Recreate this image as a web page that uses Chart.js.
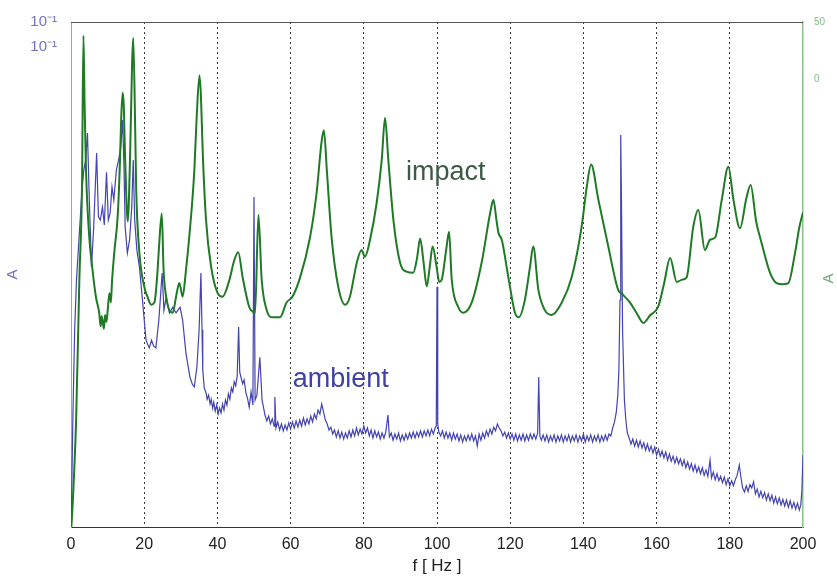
<!DOCTYPE html>
<html>
<head>
<meta charset="utf-8">
<script src="https://cdn.jsdelivr.net/npm/chart.js@4.4.1/dist/chart.umd.min.js"></script>
<style>
  html, body { margin: 0; padding: 0; background: #fff; }
  #wrap { width: 837px; height: 578px; }
</style>
</head>
<body>
<div id="wrap"><canvas id="spectrum" width="837" height="578"></canvas></div>
<script>
// frequency axis
const X_MIN = 0, X_MAX = 200, X_STEP = 20;

// impact spectrum, right axis [Hz, A]
const impact = [
  [0.1,-393],[0.5,-370],[1.4,-299],[2.3,-174],[3.0,-95],[3.4,38],[3.7,-20],[4.1,-80],[5.0,-139],[5.9,-168],
  [6.8,-191],[7.7,-205],[8.1,-217],[8.4,-208],[8.7,-214],[9.0,-219],[9.3,-207],[9.7,-213],[10.1,-200],[10.5,-188],
  [10.9,-196],[11.2,-178],[11.8,-153],[12.8,-118],[13.4,-70],[13.7,-36],[14.1,-12],[14.4,-22],[14.8,-71],[15.5,-125],
  [16.2,-60],[16.7,15],[17.0,36],[17.5,-36],[17.8,-95],[18.7,-153],[20.0,-182],[21.0,-192],[21.9,-198],[22.8,-196],
  [23.5,-175],[24.0,-150],[24.8,-118],[25.3,-168],[26.0,-191],[26.9,-203],[27.8,-205],[28.7,-191],[29.6,-179],[30.5,-191],
  [31.4,-168],[32.3,-139],[33.7,-80],[34.3,-36],[35.1,3],[35.5,-15],[36.0,-65],[36.9,-124],[38.3,-165],[40.1,-188],
  [41.4,-191],[43.3,-176],[44.6,-159],[45.7,-152],[46.9,-174],[48.7,-200],[49.6,-204],[50.3,-205],[51.2,-119],[52.1,-176],
  [53.5,-203],[54.8,-209],[57.1,-209],[58.9,-196],[60.5,-191],[62.6,-174],[65.3,-139],[67.1,-100],[68.5,-54],[69.1,-45],
  [69.9,-80],[71.2,-139],[73.0,-182],[74.9,-198],[76.2,-191],[78.1,-161],[79.4,-150],[80.3,-156],[81.7,-141],[83.5,-109],
  [84.9,-71],[85.8,-34],[86.7,-71],[88.1,-124],[89.9,-161],[91.7,-169],[93.5,-170],[94.5,-158],[95.4,-140],[96.3,-160],
  [97.2,-182],[98.0,-165],[98.8,-147],[99.9,-165],[100.6,-178],[101.3,-176],[102.5,-150],[103.3,-134],[104.0,-175],[105.8,-200],
  [107.2,-205],[109.5,-196],[112.2,-161],[114.5,-118],[115.4,-106],[116.3,-125],[116.8,-135],[117.7,-141],[119.5,-174],[121.3,-205],
  [122.4,-209],[124.0,-194],[125.4,-165],[126.3,-147],[127.7,-185],[129.5,-203],[131.3,-207],[134.1,-196],[136.8,-174],[139.5,-130],
  [140.9,-95],[142.1,-75],[144.1,-106],[146.8,-147],[149.5,-185],[150.4,-188],[152.7,-196],[154.5,-205],[156.4,-214],[158.3,-207],
  [160.4,-200],[162.0,-180],[163.7,-157],[165.5,-178],[167.0,-176],[168.2,-174],[170.0,-130],[171.4,-115],[173.2,-150],[174.6,-141],
  [176.0,-139],[177.8,-106],[179.6,-77],[181.0,-106],[182.8,-131],[184.5,-105],[185.7,-93],[187.2,-125],[188.7,-144],[191.0,-170],
  [192.8,-179],[194.5,-180],[196.0,-179],[197.8,-153],[199.0,-130],[200,-117]
];

// ambient spectrum, left log axis [Hz, A]
const ambient = [
  [0.1,2.1e-6],[0.5,1.86e-5],[1.0,1.48e-4],[1.5,4.7e-4],[2.0,9.3e-4],[2.5,1.86e-3],[3.0,3.7e-3],[3.5,5.9e-3],[4.0,7.4e-3],[4.5,1.38e-2],
  [5.0,2.95e-3],[5.6,6.3e-4],[6.2,1.58e-3],[7.0,8.7e-3],[7.5,2.0e-3],[8.0,1.86e-3],[8.6,2.5e-3],[9.1,1.66e-3],[9.7,5.6e-3],[10.2,1.86e-3],
  [10.7,2.19e-3],[11.2,4.0e-3],[11.7,2.95e-3],[12.4,5.9e-3],[13.0,7.4e-3],[13.6,1.0e-2],[14.1,1.86e-2],[14.5,5.9e-3],[14.8,1.58e-3],[15.4,8.7e-4],
  [16.0,1.17e-3],[16.6,2.5e-3],[17.0,7.4e-3],[17.4,1.86e-3],[18.0,9.3e-4],[18.7,6.3e-4],[19.6,2.75e-4],[20.5,1.17e-4],[21.0,1.05e-4],[21.4,9.8e-5],
  [22.0,1.17e-4],[22.6,1.02e-4],[23.2,9.8e-5],[24.0,1.86e-4],[24.9,5.5e-4],[25.4,2.34e-4],[26.0,3.16e-4],[26.9,2.19e-4],[27.8,2.5e-4],[28.7,2.19e-4],
  [29.8,2.5e-4],[30.5,1.86e-4],[31.4,8.7e-5],[32.5,5.0e-5],[33.2,4.2e-5],[33.7,4.0e-5],[34.4,6.3e-5],[35.0,1.48e-4],[35.5,5.5e-4],[35.8,1.48e-4],
  [36.0,5.9e-5],[36.4,3.9e-5],[36.9,3.47e-5],[37.2,3.0e-5],[37.6,3.3e-5],[38.0,2.69e-5],[38.3,3.0e-5],[38.7,2.45e-5],[39.0,2.8e-5],[39.4,2.29e-5],
  [39.8,2.63e-5],[40.2,2.14e-5],[40.6,2.45e-5],[41.0,2.19e-5],[41.4,2.69e-5],[41.8,2.34e-5],[42.2,2.95e-5],[42.6,2.63e-5],[43.0,3.4e-5],[43.4,3.0e-5],
  [43.8,3.9e-5],[44.2,3.55e-5],[44.6,4.5e-5],[45.0,4.1e-5],[45.4,5.1e-5],[45.8,1.58e-4],[46.1,5.6e-5],[46.5,4.9e-5],[46.9,4.3e-5],[47.3,4.7e-5],
  [47.8,3.47e-5],[48.2,3.1e-5],[48.7,2.5e-5],[49.2,3.55e-5],[49.7,2.63e-5],[50.0,3.16e-3],[50.3,2.95e-5],[50.8,3.3e-5],[51.6,7.9e-5],[52.2,2.95e-5],
  [53.0,2.09e-5],[53.5,1.82e-5],[54.0,2.04e-5],[54.5,1.70e-5],[55.0,1.91e-5],[55.5,1.62e-5],[55.7,3.16e-5],[56.0,1.55e-5],[56.5,1.78e-5],[57.0,1.48e-5],
  [57.5,1.70e-5],[58.0,1.45e-5],[58.5,1.66e-5],[59.0,1.48e-5],[59.5,1.74e-5],[60.0,1.51e-5],[60.5,1.78e-5],[61.0,1.55e-5],[61.5,1.82e-5],[62.0,1.58e-5],
  [62.5,1.86e-5],[63.0,1.62e-5],[63.5,1.95e-5],[64.0,1.66e-5],[64.5,1.91e-5],[65.0,1.70e-5],[65.5,2.04e-5],[66.0,1.78e-5],[66.5,2.14e-5],[67.0,1.91e-5],
  [67.5,2.34e-5],[68.0,2.14e-5],[68.5,2.69e-5],[69.0,2.24e-5],[69.5,1.86e-5],[70.0,1.70e-5],[70.5,1.48e-5],[71.0,1.58e-5],[71.5,1.35e-5],[72.0,1.48e-5],
  [72.5,1.26e-5],[73.0,1.45e-5],[73.5,1.23e-5],[74.0,1.41e-5],[74.5,1.20e-5],[75.0,1.38e-5],[75.5,1.23e-5],[76.0,1.45e-5],[76.5,1.26e-5],[77.0,1.48e-5],
  [77.5,1.29e-5],[78.0,1.55e-5],[78.5,1.32e-5],[79.0,1.51e-5],[79.5,1.35e-5],[80.0,1.62e-5],[80.5,1.38e-5],[81.0,1.55e-5],[81.5,1.29e-5],[82.0,1.48e-5],
  [82.5,1.23e-5],[83.0,1.45e-5],[83.5,1.26e-5],[84.0,1.41e-5],[84.5,1.20e-5],[85.0,1.38e-5],[85.5,1.23e-5],[86.0,1.41e-5],[86.6,2.09e-5],[87.0,1.26e-5],
  [87.5,1.38e-5],[88.0,1.17e-5],[88.5,1.35e-5],[89.0,1.20e-5],[89.5,1.38e-5],[90.0,1.15e-5],[90.5,1.32e-5],[91.0,1.17e-5],[91.5,1.35e-5],[92.0,1.20e-5],
  [92.5,1.38e-5],[93.0,1.23e-5],[93.5,1.41e-5],[94.0,1.23e-5],[94.5,1.41e-5],[95.0,1.26e-5],[95.5,1.45e-5],[96.0,1.26e-5],[96.5,1.45e-5],[97.0,1.29e-5],
  [97.5,1.48e-5],[98.0,1.29e-5],[98.5,1.51e-5],[99.0,1.35e-5],[99.5,1.55e-5],[99.8,1.62e-5],[100.0,4.0e-4],[100.2,1.70e-5],[100.5,1.41e-5],[101.0,1.29e-5],
  [101.5,1.45e-5],[102.0,1.23e-5],[102.5,1.41e-5],[103.0,1.23e-5],[103.5,1.38e-5],[104.0,1.17e-5],[104.5,1.38e-5],[105.0,1.20e-5],[105.5,1.35e-5],[106.0,1.15e-5],
  [106.5,1.32e-5],[107.0,1.12e-5],[107.5,1.29e-5],[108.0,1.15e-5],[108.5,1.32e-5],[109.0,1.17e-5],[109.5,1.35e-5],[110.0,1.15e-5],[110.5,1.29e-5],[111.0,1.02e-5],
  [111.5,1.35e-5],[112.0,1.17e-5],[112.5,1.38e-5],[113.0,1.23e-5],[113.5,1.45e-5],[114.0,1.29e-5],[114.5,1.51e-5],[115.0,1.35e-5],[115.5,1.58e-5],[116.0,1.45e-5],
  [116.5,1.70e-5],[117.0,1.55e-5],[117.5,1.45e-5],[118.0,1.29e-5],[118.5,1.41e-5],[119.0,1.23e-5],[119.5,1.38e-5],[120.0,1.20e-5],[120.5,1.35e-5],[121.0,1.17e-5],
  [121.5,1.35e-5],[122.0,1.15e-5],[122.5,1.32e-5],[123.0,1.17e-5],[123.5,1.35e-5],[124.0,1.15e-5],[124.5,1.32e-5],[125.0,1.17e-5],[125.5,1.35e-5],[126.0,1.20e-5],
  [126.5,1.35e-5],[127.0,1.20e-5],[127.5,1.38e-5],[127.8,5.0e-5],[128.1,1.29e-5],[128.5,1.17e-5],[129.0,1.32e-5],[129.5,1.15e-5],[130.0,1.32e-5],[130.5,1.12e-5],
  [131.0,1.29e-5],[131.5,1.15e-5],[132.0,1.32e-5],[132.5,1.12e-5],[133.0,1.29e-5],[133.5,1.15e-5],[134.0,1.32e-5],[134.5,1.12e-5],[135.0,1.29e-5],[135.5,1.15e-5],
  [136.0,1.32e-5],[136.5,1.12e-5],[137.0,1.29e-5],[137.5,1.15e-5],[138.0,1.32e-5],[138.5,1.12e-5],[139.0,1.29e-5],[139.5,1.15e-5],[140.0,1.35e-5],[140.5,1.12e-5],
  [141.0,1.29e-5],[141.5,1.15e-5],[142.0,1.32e-5],[142.5,1.12e-5],[143.0,1.29e-5],[143.5,1.15e-5],[144.0,1.32e-5],[144.5,1.12e-5],[145.0,1.29e-5],[145.5,1.15e-5],
  [146.0,1.32e-5],[146.5,1.17e-5],[147.0,1.35e-5],[147.5,1.29e-5],[148.0,1.55e-5],[148.5,1.78e-5],[149.0,2.24e-5],[149.4,3.3e-5],[149.7,5.9e-5],[150.0,2.95e-4],
  [150.2,1.32e-2],[150.4,2.95e-3],[150.7,1.48e-4],[151.2,2.95e-5],[151.6,1.86e-5],[152.0,1.38e-5],[152.5,1.23e-5],[153.0,1.07e-5],[153.5,1.20e-5],[154.0,1.02e-5],
  [154.5,1.17e-5],[155.0,1.0e-5],[155.5,1.15e-5],[156.0,9.8e-6],[156.5,1.10e-5],[157.0,9.3e-6],[157.5,1.07e-5],[158.0,9.1e-6],[158.5,1.02e-5],[159.0,8.7e-6],
  [159.5,1.0e-5],[160.0,8.3e-6],[160.5,9.5e-6],[161.0,8.1e-6],[161.5,9.1e-6],[162.0,7.8e-6],[162.5,8.9e-6],[163.0,7.4e-6],[163.5,8.5e-6],[164.0,7.2e-6],
  [164.5,8.1e-6],[165.0,6.9e-6],[165.5,7.9e-6],[166.0,6.8e-6],[166.5,7.6e-6],[167.0,6.5e-6],[167.5,7.4e-6],[168.0,6.2e-6],[168.5,7.1e-6],[169.0,6.0e-6],
  [169.5,6.8e-6],[170.0,5.75e-6],[170.5,6.6e-6],[171.0,5.6e-6],[171.5,6.3e-6],[172.0,5.4e-6],[172.5,6.2e-6],[173.0,5.2e-6],[173.5,5.9e-6],[174.0,5.1e-6],
  [174.6,7.4e-6],[175.0,4.9e-6],[175.5,5.6e-6],[176.0,4.7e-6],[176.5,5.4e-6],[177.0,4.6e-6],[177.5,5.1e-6],[178.0,4.4e-6],[178.5,5.0e-6],[179.0,4.2e-6],
  [179.5,4.8e-6],[180.0,4.1e-6],[180.5,4.6e-6],[181.0,4.1e-6],[181.5,4.7e-6],[182.0,5.2e-6],[182.6,6.6e-6],[183.0,5.1e-6],[183.5,3.9e-6],[184.0,3.55e-6],
  [184.5,4.1e-6],[185.0,3.6e-6],[185.5,4.2e-6],[186.0,3.9e-6],[186.5,4.5e-6],[187.0,3.4e-6],[187.5,3.8e-6],[188.0,3.16e-6],[188.5,3.6e-6],[189.0,3.1e-6],
  [189.5,3.5e-6],[190.0,2.95e-6],[190.5,3.4e-6],[191.0,2.9e-6],[191.5,3.3e-6],[192.0,2.75e-6],[192.5,3.16e-6],[193.0,2.7e-6],[193.5,3.1e-6],[194.0,2.63e-6],
  [194.5,3.0e-6],[195.0,2.57e-6],[195.5,2.95e-6],[196.0,2.5e-6],[196.5,2.9e-6],[197.0,2.45e-6],[197.5,2.8e-6],[198.0,2.4e-6],[198.5,2.75e-6],[199.0,2.34e-6],
  [199.4,2.63e-6],[199.7,3.7e-6],[200,8.3e-6]
];

// axis ranges and tick labels
const AMB_MIN = 1.585e-6, AMB_MAX = 0.1778;
const ambTicks = [AMB_MAX, 0.1];
const ambTickLabel = "10⁻¹";
const IMP_MIN = -393, IMP_MAX = 50;
const impTicks = [50, 25, 0];
const impTickLabels = { 50: "50", 25: "", 0: "0" };

// text labels in the plot [Hz, value on own axis]
const impactLabel = { text: "impact", x: 91.5, y: -89 };
const ambientLabel = { text: "ambient", x: 60.6, y: 4.0e-5 };

const BLUE = "#4343b2";
const GREEN = "#1e7a24";

const annotate = {
  id: "annotate",
  afterDatasetsDraw(chart) {
    const { ctx, chartArea: a, scales } = chart;
    ctx.save();
    // top frame line
    ctx.strokeStyle = "#555";
    ctx.lineWidth = 1;
    ctx.beginPath();
    ctx.moveTo(a.left, a.top + 0.5);
    ctx.lineTo(a.right, a.top + 0.5);
    ctx.stroke();

    ctx.font = "27px 'Liberation Sans', Arial, sans-serif";
    ctx.textBaseline = "alphabetic";
    ctx.textAlign = "left";
    ctx.fillStyle = "#3e5a46";
    ctx.fillText(impactLabel.text, scales.x.getPixelForValue(impactLabel.x), scales.yImp.getPixelForValue(impactLabel.y));
    ctx.fillStyle = "#4141a3";
    ctx.fillText(ambientLabel.text, scales.x.getPixelForValue(ambientLabel.x), scales.yAmb.getPixelForValue(ambientLabel.y));

    // right axis title, rotated like the left one
    ctx.translate(829, (a.top + a.bottom) / 2 + 4);
    ctx.rotate(-Math.PI / 2);
    ctx.textAlign = "center";
    ctx.textBaseline = "middle";
    ctx.font = "15px 'Liberation Sans', Arial, sans-serif";
    ctx.fillStyle = "#6fae6f";
    ctx.fillText("A", 0, 0);
    ctx.restore();
  }
};

const ctx = document.getElementById("spectrum").getContext("2d");
new Chart(ctx, {
  type: "line",
  data: {
    datasets: [
      { label: "impact", data: impact, yAxisID: "yImp", borderColor: GREEN, borderWidth: 2, pointRadius: 0,
        cubicInterpolationMode: "monotone" },
      { label: "ambient", data: ambient, yAxisID: "yAmb", borderColor: BLUE, borderWidth: 1.2, pointRadius: 0, tension: 0 }
    ]
  },
  options: {
    responsive: false,
    animation: false,
    layout: { padding: { top: 22, left: 0, right: 0, bottom: 0 } },
    plugins: { legend: { display: false }, tooltip: { enabled: false } },
    scales: {
      x: {
        type: "linear",
        min: X_MIN, max: X_MAX,
        afterFit: (s) => { s.height = 51; },
        ticks: { stepSize: X_STEP, padding: 8, color: "#222", maxRotation: 0,
                 font: { family: "'Liberation Sans Narrow', 'Liberation Sans', Arial", size: 16 } },
        grid: {
          drawTicks: false,
          color: (c) => (c.tick && (c.tick.value === X_MIN || c.tick.value === X_MAX)) ? "rgba(0,0,0,0)" : "#3a3a3a"
        },
        border: { display: true, color: "#333", width: 1, dash: [2, 3] },
        title: { display: true, text: "f [ Hz ]", color: "#222", padding: { top: 0, bottom: 1 },
                 font: { family: "'Liberation Sans Narrow', 'Liberation Sans', Arial", size: 17 } }
      },
      yAmb: {
        type: "logarithmic",
        position: "left",
        min: AMB_MIN, max: AMB_MAX,
        afterFit: (s) => { s.width = 71; },
        afterBuildTicks: (s) => { s.ticks = ambTicks.map(v => ({ value: v })); },
        ticks: { callback: () => ambTickLabel, color: "#7373c6", padding: 6,
                 font: { family: "'Liberation Sans', Arial", size: 15 } },
        grid: { display: false },
        border: { display: true, color: "#9c9cd6", width: 1 },
        title: { display: true, text: "A", color: "#7070cc", padding: { top: 4, bottom: 0 },
                 font: { family: "'Liberation Sans', Arial", size: 15 } }
      },
      yImp: {
        type: "linear",
        position: "right",
        min: IMP_MIN, max: IMP_MAX,
        afterFit: (s) => { s.width = 34; },
        afterBuildTicks: (s) => { s.ticks = impTicks.map(v => ({ value: v })); },
        ticks: { callback: (v) => impTickLabels[v], color: "#86c086", padding: 3,
                 font: { family: "'Liberation Sans', Arial", size: 10 } },
        grid: { display: false },
        border: { display: true, color: "#8cc28c", width: 1.5 }
      }
    }
  },
  plugins: [annotate]
});
</script>
</body>
</html>
